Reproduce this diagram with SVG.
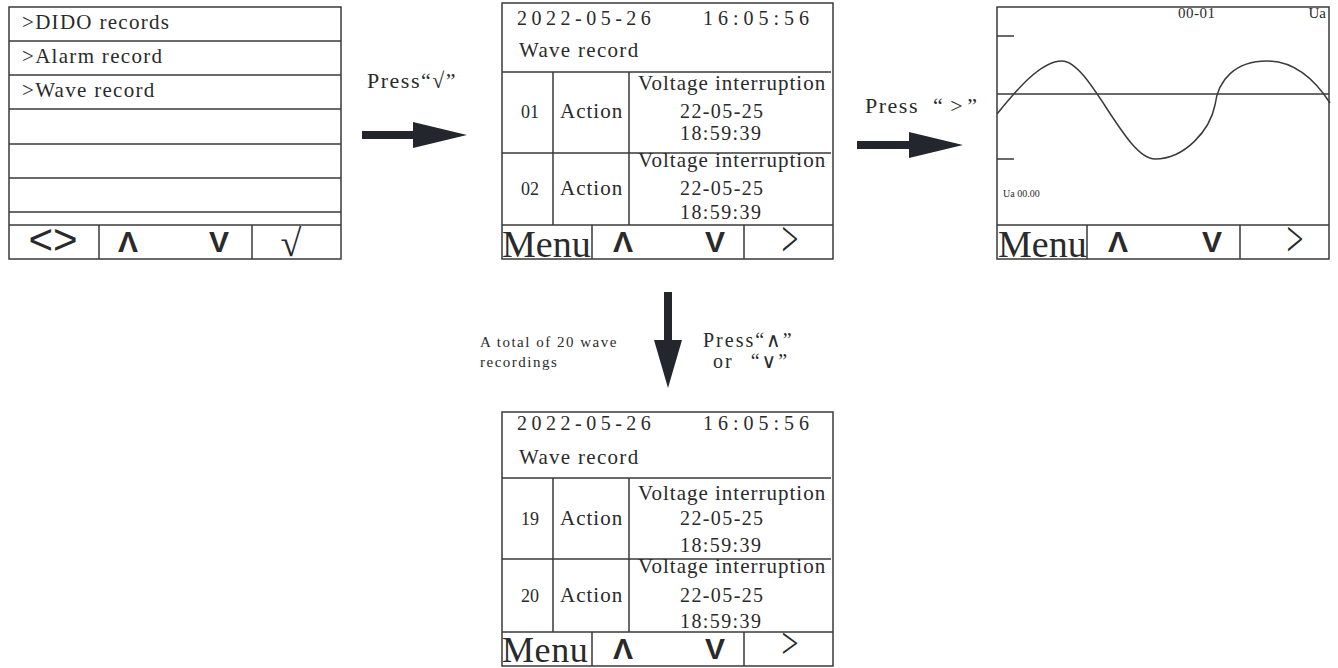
<svg xmlns="http://www.w3.org/2000/svg" width="1338" height="668" viewBox="0 0 1338 668">
<style>
.bx{fill:#fff;stroke:#3a3a3a;stroke-width:1.5}
.ln{stroke:#3a3a3a;stroke-width:1.5;fill:none}
.t{font-family:"Liberation Serif","DejaVu Serif",serif;fill:#2a2a2a}
.m{font-size:21px;letter-spacing:1.3px}
.vi{font-size:21px;letter-spacing:1px}
.d{font-size:20px;letter-spacing:1.4px}
.hd{font-size:20px;letter-spacing:4.5px}
.ht{font-size:20px;letter-spacing:5px}
.n{font-size:18px}
.menu{font-size:38px}
.s{font-family:"Liberation Sans",Arial,sans-serif;font-weight:bold;font-size:30px;fill:#2a2a2a;text-anchor:middle}
.lbl{font-size:22px;letter-spacing:1.5px}
.lb2{font-size:20px;letter-spacing:2px}
.sm{font-size:15px;letter-spacing:1.5px}
.arr{fill:#23272d}
</style>
<g id="node-menu">
<rect class="bx" x="9" y="7" width="332" height="252"/>
<path class="ln" d="M9,41H341M9,75H341M9,109H341M9,144H341M9,178H341M9,212H341M9,225H341M99,225V259M252,225V259"/>
<text class="t m" x="22" y="29">&gt;DIDO records</text>
<text class="t m" x="22" y="63">&gt;Alarm record</text>
<text class="t m" x="22" y="97">&gt;Wave record</text>
<text x="53" y="254" font-family="Liberation Sans,Arial,sans-serif" font-size="42" fill="#2a2a2a" text-anchor="middle">&lt;&gt;</text>
<text class="s" x="128" y="252">Λ</text>
<text class="s" x="219" y="252">V</text>
<text class="t" x="291" y="256" font-size="38" text-anchor="middle">√</text>
</g>
<g id="node-list1">
<rect class="bx" x="502" y="3" width="331" height="256"/>
<path class="ln" d="M502,72H831M502,153H831M502,225H833M553,72V225M629,72V225M592,225V259M744,225V259"/>
<text class="t hd" x="517" y="25">2022-05-26</text>
<text class="t ht" x="703" y="25">16:05:56</text>
<text class="t m" x="519" y="57">Wave record</text>
<text class="t n" x="521" y="118">01</text>
<text class="t vi" x="560" y="118">Action</text>
<text class="t vi" x="638" y="90">Voltage interruption</text>
<text class="t d" x="680" y="118">22-05-25</text>
<text class="t d" x="680" y="140">18:59:39</text>
<text class="t n" x="521" y="195">02</text>
<text class="t vi" x="560" y="195">Action</text>
<text class="t vi" x="638" y="167">Voltage interruption</text>
<text class="t d" x="680" y="195">22-05-25</text>
<text class="t d" x="680" y="219">18:59:39</text>
<text class="t menu" x="502" y="257">Menu</text>
<text class="s" x="623" y="252">Λ</text>
<text class="s" x="715" y="252">V</text>
<text class="t" transform="translate(790,256) scale(0.75,1.25)" font-size="40" text-anchor="middle">&gt;</text>
</g>
<g id="node-wave">
<rect class="bx" x="997" y="7" width="332" height="252"/>
<path class="ln" d="M997,225H1329M1087,225V259M1240,225V259M997,94H1329M997,36H1014M997,159H1014"/>
<path class="ln" d="M997,114C1015,92 1040,61 1062,61C1090,61 1125,159 1155,159C1185,159 1210,130 1215,105C1218,80 1235,61 1267,61C1295,61 1315,80 1330,103"/>
<text class="t" x="1178" y="18" font-size="15" letter-spacing="0.5">00-01</text>
<text class="t" x="1326" y="18" font-size="15" text-anchor="end">Ua</text>
<text class="t" x="1003" y="197" font-size="10">Ua 00.00</text>
<text class="t menu" x="998" y="257">Menu</text>
<text class="s" x="1118" y="252">Λ</text>
<text class="s" x="1212" y="252">V</text>
<text class="t" transform="translate(1295,256) scale(0.75,1.25)" font-size="40" text-anchor="middle">&gt;</text>
</g>
<g id="node-list2">
<rect class="bx" x="502" y="412" width="331" height="254"/>
<path class="ln" d="M502,478H831M502,559H831M502,632H833M553,478V632M629,478V632M592,632V666M744,632V666"/>
<text class="t hd" x="517" y="430">2022-05-26</text>
<text class="t ht" x="703" y="430">16:05:56</text>
<text class="t m" x="519" y="464">Wave record</text>
<text class="t n" x="521" y="525">19</text>
<text class="t vi" x="560" y="525">Action</text>
<text class="t vi" x="638" y="500">Voltage interruption</text>
<text class="t d" x="680" y="525">22-05-25</text>
<text class="t d" x="680" y="552">18:59:39</text>
<text class="t n" x="521" y="602">20</text>
<text class="t vi" x="560" y="602">Action</text>
<text class="t vi" x="638" y="573">Voltage interruption</text>
<text class="t d" x="680" y="602">22-05-25</text>
<text class="t d" x="680" y="628">18:59:39</text>
<text class="t" x="502" y="662" font-size="36" letter-spacing="0.6">Menu</text>
<text class="s" x="623" y="659">Λ</text>
<text class="s" x="715" y="659">V</text>
<text class="t" transform="translate(790,658) scale(0.75,1.1)" font-size="40" text-anchor="middle">&gt;</text>
</g>
<g id="connectors">
<path class="arr" d="M362,131H413V122L467,135L413,148V139H362Z"/>
<path class="arr" d="M857,141H909V132L963,145L909,158V149H857Z"/>
<path class="arr" d="M664,292H672V340H682L668,388L654,340H664Z"/>
</g>
<g id="labels">
<text class="t lbl" x="367" y="88">Press“√”</text>
<text class="t lbl" x="865" y="113">Press <tspan dx="7">“</tspan><tspan dx="6">&gt;</tspan><tspan dx="3">”</tspan></text>
<text class="t sm" x="480" y="347">A total of 20 wave</text>
<text class="t sm" x="480" y="367">recordings</text>
<text class="t lb2" x="703" y="347">Press“∧”</text>
<text class="t lb2" x="713" y="368">or <tspan dx="10">“∨”</tspan></text>
</g>
</svg>
